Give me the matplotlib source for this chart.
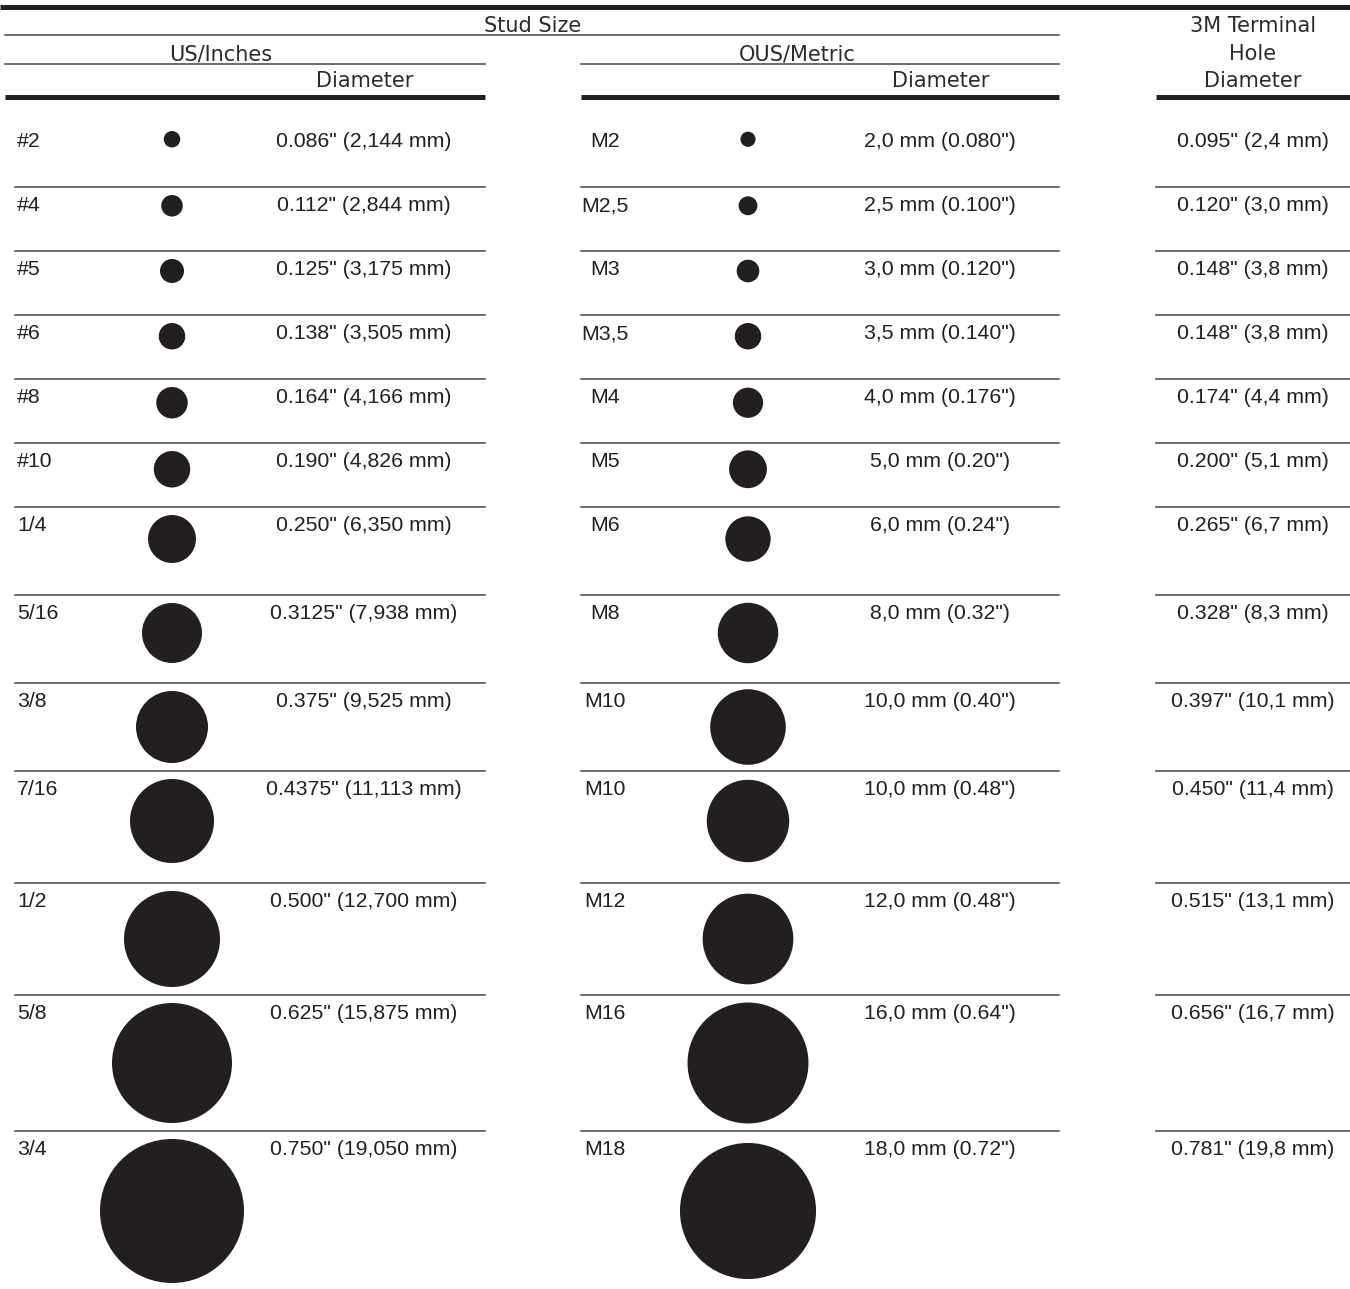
import matplotlib
matplotlib.use("Agg")
import matplotlib.pyplot as plt
from matplotlib.patches import Circle

# --- data -------------------------------------------------------------
us_sizes = ["#2", "#4", "#5", "#6", "#8", "#10", "1/4", "5/16", "3/8",
            "7/16", "1/2", "5/8", "3/4"]
us_diam_in = [0.086, 0.112, 0.125, 0.138, 0.164, 0.190, 0.250, 0.3125,
              0.375, 0.4375, 0.500, 0.625, 0.750]
us_labels = ['0.086" (2,144 mm)', '0.112" (2,844 mm)', '0.125" (3,175 mm)',
             '0.138" (3,505 mm)', '0.164" (4,166 mm)', '0.190" (4,826 mm)',
             '0.250" (6,350 mm)', '0.3125" (7,938 mm)', '0.375" (9,525 mm)',
             '0.4375" (11,113 mm)', '0.500" (12,700 mm)',
             '0.625" (15,875 mm)', '0.750" (19,050 mm)']

metric_sizes = ["M2", "M2,5", "M3", "M3,5", "M4", "M5", "M6", "M8", "M10",
                "M10", "M12", "M16", "M18"]
metric_diam_mm = [2.0, 2.5, 3.0, 3.5, 4.0, 5.0, 6.0, 8.0, 10.0, 10.9, 12.0,
                  16.0, 18.0]
metric_labels = ['2,0 mm (0.080")', '2,5 mm (0.100")', '3,0 mm (0.120")',
                 '3,5 mm (0.140")', '4,0 mm (0.176")', '5,0 mm (0.20")',
                 '6,0 mm (0.24")', '8,0 mm (0.32")', '10,0 mm (0.40")',
                 '10,0 mm (0.48")', '12,0 mm (0.48")', '16,0 mm (0.64")',
                 '18,0 mm (0.72")']

hole_labels = ['0.095" (2,4 mm)', '0.120" (3,0 mm)', '0.148" (3,8 mm)',
               '0.148" (3,8 mm)', '0.174" (4,4 mm)', '0.200" (5,1 mm)',
               '0.265" (6,7 mm)', '0.328" (8,3 mm)', '0.397" (10,1 mm)',
               '0.450" (11,4 mm)', '0.515" (13,1 mm)', '0.656" (16,7 mm)',
               '0.781" (19,8 mm)']

# --- layout (pixel units) ---------------------------------------------
W, H = 1350, 1289
PX_PER_IN = 192
row_heights = [64, 64, 64, 64, 64, 64, 88, 88, 88, 112, 112, 136]
first_top = 123
ink = "#231f20"
body_font = dict(family="Liberation Sans", fontsize=15.3, color=ink)
head_font = dict(family="DejaVu Sans", fontsize=15, color="#2b2b2b")

us_seg = (15, 485)
met_seg = (581, 1059)
hole_seg = (1156, 1350)

fig = plt.figure(figsize=(W / 100, H / 100), dpi=100)
ax = fig.add_axes([0, 0, 1, 1])
ax.set_xlim(0, W)
ax.set_ylim(H, 0)
ax.axis("off")

# header rules
thick, thin = 3.6, 1.1
ax.plot([0, W], [6.5, 6.5], color=ink, lw=thick, solid_capstyle="butt")
ax.plot([5, 1059], [35, 35], color="#444444", lw=thin)
for x0, x1 in [(5, 485), met_seg]:
    ax.plot([x0, x1], [64, 64], color="#444444", lw=thin)
for x0, x1 in [(5, 485), met_seg, hole_seg]:
    ax.plot([x0, x1], [96.5, 96.5], color=ink, lw=thick, solid_capstyle="butt")

ax.text(533, 32, "Stud Size", ha="center", va="baseline", **head_font)
ax.text(221, 60, "US/Inches", ha="center", va="baseline", **head_font)
ax.text(797, 60, "OUS/Metric", ha="center", va="baseline", **head_font)
ax.text(365, 87, "Diameter", ha="center", va="baseline", **head_font)
ax.text(941, 87, "Diameter", ha="center", va="baseline", **head_font)
ax.text(1253, 32, "3M Terminal", ha="center", va="baseline", **head_font)
ax.text(1253, 60, "Hole", ha="center", va="baseline", **head_font)
ax.text(1253, 87, "Diameter", ha="center", va="baseline", **head_font)

# rows
tops = [first_top]
for h in row_heights:
    tops.append(tops[-1] + h)

for i, top in enumerate(tops):
    if i > 0:
        for x0, x1 in [us_seg, met_seg, hole_seg]:
            ax.plot([x0, x1], [top, top], color="#444444", lw=thin)

    base = top + 24
    ax.text(17, base, us_sizes[i], ha="left", va="baseline", **body_font)
    ax.text(364, base, us_labels[i], ha="center", va="baseline", **body_font)
    ax.text(605, base, metric_sizes[i], ha="center", va="baseline", **body_font)
    ax.text(940, base, metric_labels[i], ha="center", va="baseline", **body_font)
    ax.text(1253, base, hole_labels[i], ha="center", va="baseline", **body_font)

    r_us = us_diam_in[i] * PX_PER_IN / 2
    cy = top + 8 + r_us
    ax.add_patch(Circle((172, cy), r_us, color=ink, lw=0))
    r_m = metric_diam_mm[i] / 25.4 * PX_PER_IN / 2
    ax.add_patch(Circle((748, cy), r_m, color=ink, lw=0))

fig.savefig("out.png", dpi=100)
